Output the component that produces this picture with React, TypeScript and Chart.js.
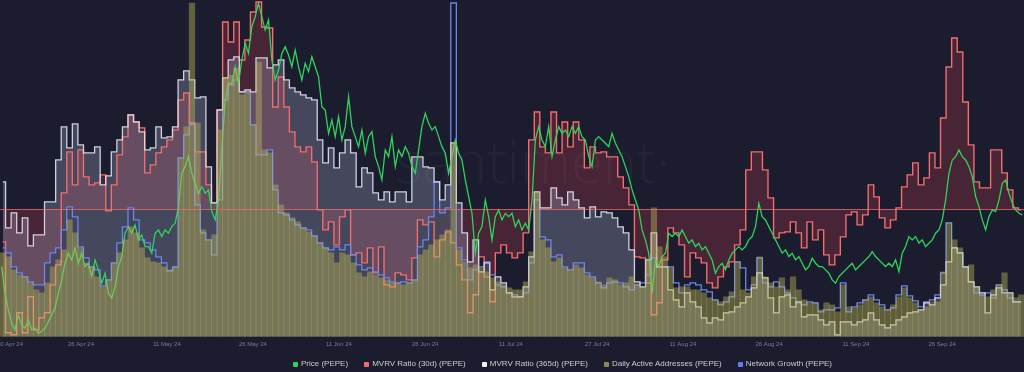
import React, { useEffect, useRef } from "react";
import { Chart, registerables } from "chart.js";

Chart.register(...registerables);

const BG = "#1b1d2e";
const DAYS = 184;

const SERIES_LABELS = [
  "Price (PEPE)",
  "MVRV Ratio (30d) (PEPE)",
  "MVRV Ratio (365d) (PEPE)",
  "Daily Active Addresses (PEPE)",
  "Network Growth (PEPE)",
];
const LEGEND_COLORS = ["#2fd35c", "#f26d6d", "#f2f2f7", "#8c8a4c", "#5e7ef5"];

const TICK_LABELS = [
  "10 Apr 24", "26 Apr 24", "11 May 24", "26 May 24", "11 Jun 24", "26 Jun 24",
  "11 Jul 24", "27 Jul 24", "11 Aug 24", "26 Aug 24", "11 Sep 24", "26 Sep 24",
];
// tick positions, in days from the first day shown
const TICK_DAYS = [1.8, 14.55, 30.0, 45.45, 60.9, 76.4, 91.8, 107.3, 122.7, 138.2, 153.8, 169.3];

// Price in micro-USD (1e-6 USD), sampled ~1.7x per day
const PRICE = [
  7.63, 6.67, 6.07, 5.59, 5.35, 5.89, 5.53, 5.41, 5.71, 5.35,
  5.41, 5.23, 5.29, 5.41, 5.65, 5.89, 6.13, 6.67, 7.15, 7.75,
  8.11, 7.87, 8.29, 7.75, 8.11, 7.63, 7.75, 7.27, 7.87, 7.51,
  7.03, 7.39, 6.67, 6.49, 6.91, 7.63, 7.99, 8.83, 9.07, 8.83,
  9.13, 8.59, 8.77, 8.35, 8.35, 8.11, 8.83, 8.95, 8.71, 8.95,
  8.83, 9.07, 9.19, 9.79, 10.99, 11.23, 11.59, 10.99, 10.63, 10.27,
  10.51, 10.27, 10.39,
  9.61, 9.31, 10.03, 11.83, 13.63, 14.23, 14.23, 14.83, 14.23, 15.07,
  15.67, 15.31, 16.27, 16.63, 17.11, 16.63, 16.15, 16.51, 15.07, 14.35,
  14.71, 15.31, 15.55, 15.25, 14.83, 15.43, 14.83, 14.35, 14.95, 14.65,
  15.19, 14.83, 14.47, 13.39, 13.27, 12.43, 12.91, 12.31, 13.03, 12.19,
  12.67, 13.75, 12.67, 12.31, 11.95, 12.55, 11.71, 12.31, 12.49, 11.59,
  11.23, 10.75, 11.83, 11.59, 12.31, 11.23, 11.83, 11.59, 11.95, 11.71,
  11.23, 10.99, 11.83, 12.67, 13.15, 12.79, 12.55, 12.67, 12.31, 11.95,
  11.71, 10.99, 11.59, 12.19, 11.71, 11.47, 10.75, 10.15, 9.55, 8.11,
  8.83, 9.07, 10.03, 9.43, 8.59, 9.43, 9.67, 9.31, 9.55, 9.43,
  9.55, 9.07, 9.31, 8.95, 9.19, 8.95, 10.03, 12.19, 12.67, 12.19,
  11.95, 12.67, 11.59, 12.19, 12.67, 12.43, 12.55, 12.31, 12.67, 12.43,
  12.67, 12.31, 12.19, 11.59, 11.23, 12.19, 12.31, 12.19, 12.07, 11.95,
  12.43, 12.07, 11.83, 11.59, 11.23, 10.87, 10.39, 10.03, 9.67, 8.95,
  8.59, 8.11, 6.67, 7.87, 7.63, 7.99, 8.11, 8.83, 8.71, 8.83,
  8.71, 8.95, 8.71, 8.47, 8.59, 8.35, 8.47, 8.23, 8.35, 8.11,
  7.87, 7.39, 7.63, 7.75, 7.51, 7.87, 8.11, 8.23, 8.35, 8.23,
  8.35, 8.59, 8.71, 9.07, 9.91, 9.43, 9.31, 9.07, 8.83, 8.59,
  8.35, 8.11, 8.23, 7.99, 8.11, 7.87, 7.99, 7.75, 7.51, 7.63,
  7.93, 7.75, 7.63, 7.63, 7.51, 7.39, 7.15, 7.03, 7.27, 7.39,
  7.51, 7.63, 7.75, 7.51, 7.63, 7.75, 7.87, 7.99, 8.17, 7.99,
  7.87, 7.75, 7.63, 7.75, 7.63, 7.87, 7.45, 8.11, 8.35, 8.71,
  8.59, 8.71, 8.47, 8.59, 8.35, 8.47, 8.59, 8.83, 8.95, 9.31,
  10.03, 10.99, 11.47, 11.59, 11.83, 11.59, 11.47, 11.23, 10.87, 10.15,
  9.79, 9.31, 8.95, 9.43, 9.67, 9.61, 10.03, 10.63, 10.75, 10.27,
  9.91, 9.67, 9.55, 9.49,
];

// MVRV 30d, percent (daily)
const MVRV_30D = [
  -6.6, -24.8, -25.2, -20.8, -24.8, -17.6, -24.2, -21.8, -20.8, -15.2,
  -11.2, 3.2, 11.4, 4.8, 11.8, 6.4, 4.8, 5.2, 6.8, -0.4,
  4.8, 10.8, 14.4, 18.8, 17.4, 16.2, 7.2, 8.8, 11.2, 12.4,
  13.8, 15.8, 21.8, 23.2, 17.2, 11.4, 11.4, 4.8, 1.2, 19.8,
  37.4, 33.4, 37.4, 29.8, 33.8, 39.4, 41.4, 36.4, 36.2, 20.4,
  26.4, 20.4, 15.4, 12.4, 11.4, 12.4, 9.4, -0.2, -4.2, -2.6,
  -7.2, -1.6, -0.2, -9.2, -8.8, -10.8, -7.8, -12.8, -7.6, -15.2,
  -15.6, -12.8, -13.2, -14.2, -9.8, -2.2, -3.2, -2.6, -9.6, -6.2,
  -4.6, -6.8, -11.2, -14.2, -20.8, -17.2, -9.6, -13.6, -18.6, -8.8,
  -7.2, -8.8, -9.8, -8.8, -4.8, 13.8, 19.4, 12.4, 11.2, 19.4,
  11.2, 17.4, 12.4, 17.4, 13.8, 8.2, 12.4, 11.2, 11.4, 10.4,
  10.4, 6.4, 4.2, 0.8, -9.6, -9.8, -14.8, -21.2, -18.8, -10.2,
  -3.8, -4.8, -7.2, -13.6, -8.8, -9.8, -10.8, -14.8, -15.8, -13.6,
  -11.6, -10.6, -7.2, -4.2, 7.8, 11.4, 11.4, 7.8, 2.2, -5.8,
  -4.8, -4.6, -2.6, -4.8, -7.8, -2.6, -6.2, -4.2, -9.2, -11.2,
  -9.2, -5.6, -1.2, -0.6, -3.2, -1.2, 4.8, 2.4, -1.8, -3.8,
  -2.2, 0.2, 4.4, 6.8, 9.2, 4.8, 6.2, 11.2, 8.2, 18.2,
  28.4, 34.2, 31.4, 21.4, 12.8, 5.4, 4.2, 4.2, 11.8, 11.8,
  7.2, 3.8, 0.2, -0.2,
];

// MVRV 365d, percent (daily)
const MVRV_365D = [
  77.5, 54.5, 62, 52, 59.5, 45.5, 51, 51, 67.5, 67.5,
  88.5, 105, 94.5, 106.5, 96, 92, 92, 95, 76, 80.5,
  92.5, 98.5, 105, 111, 107.5, 102.5, 93.5, 94.5, 105, 99.5,
  100, 105, 128.5, 133, 128.5, 119.5, 120, 85, 67, 113.5,
  129.5, 138.5, 140, 122.5, 123.5, 122.5, 139.5, 139.5, 134.5, 136,
  138.5, 128.5, 124.5, 122.5, 121, 119.5, 118.5, 98.5, 87, 94.5,
  84.5, 92, 98.5, 92, 75, 84.5, 82, 72, 68.5, 72.5,
  67.5, 72.5, 72.5, 67.5, 90, 90, 85, 84.5, 77.5, 68.5,
  76, 97, 67, 52, 37.5, 48.5, 32.5, 37, 23.5, 30,
  27, 22, 20, 20, 25, 40, 72.5, 64.5, 64.5, 74.5,
  69.5, 66, 72.5, 68.5, 64.5, 59.5, 65, 60, 62.5, 62,
  59.5, 55, 52, 43.5, 27.5, 25, 38.5, 52, 35, 35,
  23.5, 18.5, 15, 22, 17.5, 15, 9.5, 7, 9.5, 8.5,
  12, 12.5, 15, 17, 20, 24.5, 32, 29.5, 19.5, 12,
  20, 21, 15, 17.5, 10, 11, 11, 8.5, 6, 7.5,
  1, 7.5, 7.5, 6, 7.5, 8.5, 12, 8.5, 6, 4.5,
  6, 8.5, 10, 12, 12.5, 13.5, 17, 16, 19.5, 26,
  37.5, 44.5, 42, 35, 27.5, 25, 22, 12, 21, 24.5,
  22, 22, 17.5, 17.5,
];

// Daily active addresses (daily)
const DAILY_ACTIVE = [
  3360, 3200, 2680, 2480, 2400, 2160, 1880, 1760, 2160, 2800,
  3080, 3480, 4680, 4160, 3560, 2960, 2800, 2400, 2000, 2280,
  2960, 3360, 3880, 4400, 4160, 3560, 3160, 3000, 2960, 2800,
  2680, 2800, 7160, 8400, 13360, 8560, 4280, 3880, 4080, 8280,
  10360, 10480, 10760, 9680, 9800, 8480, 11000, 7480, 7360, 6080,
  5280, 4960, 4760, 4600, 4360, 4200, 4040, 3760, 3560, 3360,
  2960, 3360, 3280, 2960, 2560, 2400, 2600, 2480, 2360, 2280,
  2160, 2160, 2080, 2160, 2280, 3280, 3480, 3680, 3880, 4080,
  4280, 7760, 3480, 3000, 2760, 2880, 2760, 2600, 2360, 2200,
  2080, 1960, 1880, 1880, 2200, 3400, 5800, 3880, 3560, 3000,
  3160, 2760, 2680, 2880, 2760, 2480, 2360, 2200, 2080, 2360,
  2280, 2080, 2160, 2400, 2080, 2000, 3080, 5160, 3600, 3200,
  2760, 1960, 2000, 2000, 1880, 1880, 1760, 1560, 1480, 1400,
  1600, 1800, 3000, 1880, 1760, 2400, 3200, 2400, 2160, 2000,
  2360, 1880, 2400, 1880, 1480, 1360, 1360, 1080, 1360, 1280,
  1000, 2080, 1200, 1160, 1280, 1480, 1600, 1360, 1200, 1080,
  1280, 1600, 1960, 1560, 1360, 1080, 1200, 1400, 1400, 2600,
  4560, 3880, 3560, 2800, 2880, 2000, 1680, 1600, 1880, 2080,
  2560, 1760, 1560, 1680,
];

// Network growth (daily)
const NETWORK_GROWTH = [
  1780, 1680, 1400, 1280, 1200, 1100, 1040, 1040, 1480, 1680,
  1780, 2140, 2600, 2400, 1800, 1580, 1400, 1340, 1020, 1140,
  1480, 1880, 2200, 2580, 2340, 1940, 1880, 1740, 1600, 1480,
  1320, 1400, 3580, 4040, 4240, 2640, 2080, 1940, 1640, 2740,
  4740, 5040, 5140, 4900, 4900, 4240, 3640, 3640, 3740, 2940,
  2480, 2440, 2340, 2240, 2180, 2140, 2020, 1880, 1780, 1740,
  1800, 1740, 1840, 1640, 1440, 1340, 1380, 1300, 1240, 1180,
  1100, 1080, 1100, 1080, 1140, 1800, 1940, 2400, 3100, 2480,
  2580, 6680, 1780, 1540, 1140, 1340, 1400, 1500, 1240, 1040,
  1000, 880, 840, 800, 880, 1480, 2740, 2000, 1940, 1600,
  1640, 1400, 1340, 1480, 1480, 1280, 1200, 1080, 980, 1080,
  1100, 1080, 1000, 940, 1040, 1080, 1240, 1580, 1400, 1400,
  1400, 1080, 880, 1040, 1080, 1040, 940, 900, 740, 640,
  700, 800, 1500, 1380, 940, 1040, 1580, 1080, 1000, 1100,
  1000, 880, 780, 680, 640, 700, 680, 500, 540, 540,
  580, 1080, 500, 600, 680, 740, 840, 740, 640, 540,
  580, 840, 1020, 820, 720, 600, 700, 740, 840, 1280,
  2280, 1780, 1680, 1400, 1100, 880, 840, 880, 780, 1040,
  940, 780, 700, 700,
];

const dayPoints = (arr: number[]) => arr.map((v, i) => ({ x: i + 0.5, y: v }));
const pricePoints = () => PRICE.map((v, i) => ({ x: ((i + 0.5) * DAYS) / PRICE.length, y: v }));

const overlayPlugin = {
  id: "santOverlay",
  beforeDatasetsDraw(chart: any) {
    const { ctx, chartArea } = chart;
    ctx.save();
    ctx.font = '300 58px "Open Sans", sans-serif';
    ctx.fillStyle = "rgba(255,255,255,0.035)";
    ctx.textBaseline = "alphabetic";
    ctx.fillText(
      "santiment·",
      chartArea.left + chartArea.width * 0.386,
      chartArea.top + chartArea.height * 0.543
    );
    ctx.restore();
  },
  afterDatasetsDraw(chart: any) {
    const { ctx, chartArea } = chart;
    const y = Math.round(chart.scales.yM30.getPixelForValue(0)) + 0.5;
    ctx.save();
    ctx.strokeStyle = "rgba(242,109,109,0.75)";
    ctx.lineWidth = 1;
    ctx.beginPath();
    ctx.moveTo(chartArea.left, y);
    ctx.lineTo(chartArea.right, y);
    ctx.stroke();
    ctx.restore();
  },
};

export default function App() {
  const ref = useRef<HTMLCanvasElement>(null);

  useEffect(() => {
    document.body.style.margin = "0";
    document.body.style.background = BG;
    const canvas = ref.current;
    if (!canvas) return;
    const chart = new Chart(canvas, {
      type: "bar",
      data: {
        datasets: [
          {
            type: "bar",
            label: SERIES_LABELS[3],
            data: dayPoints(DAILY_ACTIVE),
            yAxisID: "yDaa",
            backgroundColor: "rgba(190,186,90,0.43)",
            borderWidth: 0,
            barPercentage: 1,
            categoryPercentage: 1,
            order: 0,
          },
          {
            type: "line",
            label: SERIES_LABELS[0],
            data: pricePoints(),
            yAxisID: "yPrice",
            borderColor: "#2fd35c",
            borderWidth: 1.3,
            pointRadius: 0,
            fill: false,
            tension: 0,
            order: 1,
          },
          {
            type: "line",
            label: SERIES_LABELS[2],
            data: dayPoints(MVRV_365D),
            yAxisID: "yM365",
            borderColor: "rgba(222,224,236,0.92)",
            borderWidth: 1.3,
            backgroundColor: "rgba(190,195,225,0.26)",
            pointRadius: 0,
            stepped: "middle",
            fill: "origin",
            order: 2,
          },
          {
            type: "line",
            label: SERIES_LABELS[4],
            data: dayPoints(NETWORK_GROWTH),
            yAxisID: "yNg",
            borderColor: "#6d85f0",
            borderWidth: 1.3,
            backgroundColor: "rgba(22,24,40,0.82)",
            pointRadius: 0,
            stepped: "middle",
            fill: "origin",
            order: 3,
          },
          {
            type: "line",
            label: SERIES_LABELS[1],
            data: dayPoints(MVRV_30D),
            yAxisID: "yM30",
            borderColor: "#f26d6d",
            borderWidth: 1.4,
            backgroundColor: "rgba(255,70,90,0.2)",
            pointRadius: 0,
            stepped: "middle",
            fill: "origin",
            order: 4,
          },
        ],
      },
      options: {
        responsive: false,
        devicePixelRatio: 1,
        animation: false,
        layout: { padding: { left: 0, right: 0, top: 0, bottom: 20 } },
        plugins: {
          legend: { display: false },
          tooltip: { enabled: false },
          filler: { drawTime: "beforeDatasetsDraw" },
        },
        scales: {
          x: {
            type: "linear",
            min: 0,
            max: DAYS,
            offset: false,
            bounds: "data",
            grid: { display: false, drawTicks: false, offset: false },
            border: { display: false },
            afterBuildTicks: (scale: any) => {
              scale.ticks = TICK_DAYS.map((v) => ({ value: v }));
            },
            afterFit: (scale: any) => {
              scale.paddingLeft = 0;
              scale.paddingRight = 0;
            },
            ticks: {
              autoSkip: false,
              maxRotation: 0,
              padding: 4,
              color: "#7b7e8f",
              font: { size: 6, family: '"Liberation Sans", Arial, sans-serif' },
              callback: (_v: any, i: number) => TICK_LABELS[i],
            },
          },
          yPrice: { display: false, min: 5.1, max: 17.232 },
          yM30: { display: false, min: -25.6, max: 41.8 },
          yM365: { display: false, min: 0, max: 168.5 },
          yDaa: { display: false, min: 0, max: 13480 },
          yNg: { display: false, min: 0, max: 6740 },
        },
      },
      plugins: [overlayPlugin],
    } as any);
    return () => chart.destroy();
  }, []);

  return (
    <div style={{ position: "relative", width: 1024, height: 372, background: BG, overflow: "hidden" }}>
      <canvas ref={ref} width={1024} height={372} style={{ display: "block", width: 1024, height: 372 }} />
      <div
        style={{
          position: "absolute",
          left: 293,
          top: 359,
          display: "flex",
          alignItems: "center",
          gap: 16,
          fontFamily: '"Liberation Sans", Arial, sans-serif',
          fontSize: 8,
          lineHeight: "10px",
          color: "#c9cbd6",
          whiteSpace: "nowrap",
        }}
      >
        {SERIES_LABELS.map((label, i) => (
          <div key={label} style={{ display: "flex", alignItems: "center" }}>
            <span
              style={{
                display: "inline-block",
                width: 5,
                height: 5,
                background: LEGEND_COLORS[i],
                marginRight: 3,
                borderRadius: 1,
              }}
            />
            <span>{label}</span>
          </div>
        ))}
      </div>
    </div>
  );
}
